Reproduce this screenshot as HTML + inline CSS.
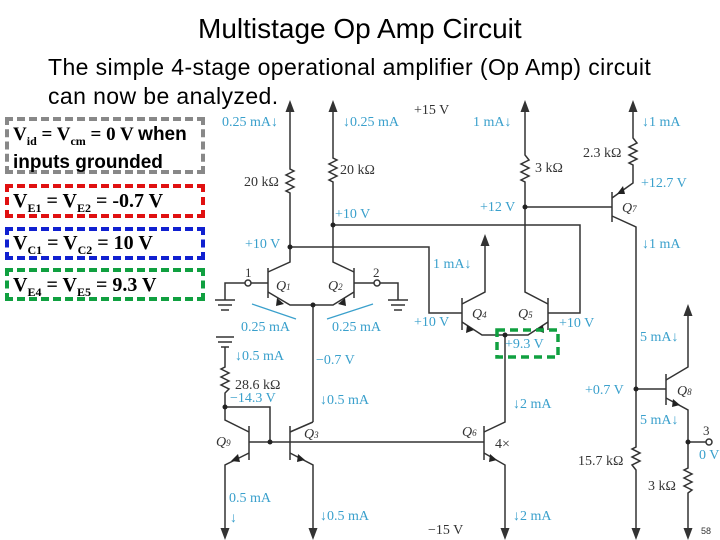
<!DOCTYPE html>
<html><head><meta charset="utf-8"><style>
body{margin:0;width:720px;height:540px;background:#fff;overflow:hidden;position:relative;font-family:"Liberation Sans",sans-serif}
.t{position:absolute;white-space:nowrap}
.box{position:absolute;border:4px dashed;box-sizing:border-box}
.bx{font-family:"Liberation Serif",serif;font-weight:bold;font-size:20px;position:absolute;left:13px;white-space:nowrap}
sub{font-size:12px}
</style></head><body>
<div class="t" style="left:198px;top:13px;font-size:28px">Multistage Op Amp Circuit</div>
<div class="t" style="left:48px;top:53px;font-size:23px;letter-spacing:0.4px;line-height:29px">The simple 4-stage operational amplifier (Op Amp) circuit<br>can now be analyzed.</div>
<div class="box" style="left:5px;top:117px;width:200px;height:57px;border-color:#888"></div>
<div class="bx" style="top:124px;font-size:19px;line-height:21px">V<sub>id</sub> = V<sub>cm</sub> = 0 V <span style="font-family:'Liberation Sans'">when</span><br><span style="font-family:'Liberation Sans'">inputs grounded</span></div>
<div class="box" style="left:5px;top:184px;width:200px;height:34px;border-color:#e01010"></div>
<div class="bx" style="top:190px">V<sub>E1</sub> = V<sub>E2</sub> = -0.7 V</div>
<div class="box" style="left:5px;top:227px;width:200px;height:33px;border-color:#1020d0"></div>
<div class="bx" style="top:232px">V<sub>C1</sub> = V<sub>C2</sub> = 10 V</div>
<div class="box" style="left:5px;top:268px;width:200px;height:33px;border-color:#10a040"></div>
<div class="bx" style="top:274px">V<sub>E4</sub> = V<sub>E5</sub> = 9.3 V</div>
<svg width="720" height="540" style="position:absolute;left:0;top:0" font-family="Liberation Serif,serif">
<defs><marker id="a" markerWidth="8" markerHeight="8" refX="4" refY="4" orient="auto"><path d="M0,1 L8,4 L0,7z" fill="#333"/></marker></defs>
<g stroke="#333" stroke-width="1.5" fill="none">
<polyline points="290,247 290,193 286,191 294,187 286,183 294,179 286,175 294,171 290,169 290,110" />
<line x1="290" y1="110" x2="290" y2="106" marker-end="url(#a)"/>
<polyline points="333,225 333,182 329,180 337,176 329,172 337,168 329,164 337,160 333,158 333,110"/>
<line x1="333" y1="110" x2="333" y2="106" marker-end="url(#a)"/>
<polyline points="290,247 429,247 429,313 462,313"/>
<polyline points="333,225 580,225 580,313 548,313"/>
<polyline points="290,247 290,262 268,272"/>
<line x1="268" y1="268" x2="268" y2="298"/>
<polyline points="268,292 290,305 333,305 354,292"/>
<line x1="354" y1="268" x2="354" y2="298"/>
<polyline points="333,225 333,262 354,272"/>
<polyline points="225,300 225,283 245,283"/><circle cx="248" cy="283" r="3"/><line x1="251" y1="283" x2="268" y2="283"/>
<line x1="215" y1="300" x2="235" y2="300"/><line x1="218" y1="305" x2="232" y2="305"/><line x1="221" y1="310" x2="229" y2="310"/>
<line x1="354" y1="283" x2="374" y2="283"/><circle cx="377" cy="283" r="3"/><polyline points="380,283 398,283 398,300"/>
<line x1="388" y1="300" x2="408" y2="300"/><line x1="391" y1="305" x2="405" y2="305"/><line x1="394" y1="310" x2="402" y2="310"/>
<line x1="313" y1="305" x2="313" y2="422"/>
<line x1="216" y1="337" x2="234" y2="337"/><line x1="218" y1="342" x2="232" y2="342"/><line x1="221" y1="347" x2="229" y2="347"/>
<polyline points="225,347 225,367 221,369 229,373 221,377 229,381 221,385 229,389 225,393 225,407 270,407 270,442"/>
<polyline points="225,407 225,420 249,432"/>
<line x1="249" y1="426" x2="249" y2="460"/>
<polyline points="249,453 225,465 225,532" />
<line x1="225" y1="530" x2="225" y2="534" marker-end="url(#a)"/>
<line x1="249" y1="442" x2="484" y2="442"/>
<line x1="290" y1="426" x2="290" y2="460"/>
<polyline points="290,432 313,422"/>
<polyline points="290,453 313,465 313,532"/>
<line x1="313" y1="530" x2="313" y2="534" marker-end="url(#a)"/>
<line x1="484" y1="426" x2="484" y2="460"/>
<polyline points="484,432 505,422 505,335"/>
<polyline points="484,453 505,465 505,532"/>
<line x1="505" y1="530" x2="505" y2="534" marker-end="url(#a)"/>
<line x1="462" y1="298" x2="462" y2="330"/>
<polyline points="462,304 485,292 485,245"/>
<line x1="485" y1="245" x2="485" y2="240" marker-end="url(#a)"/>
<polyline points="462,322 482,335 528,335 548,322"/>
<line x1="548" y1="298" x2="548" y2="330"/>
<polyline points="548,304 525,292 525,182 521,180 529,176 521,172 529,168 521,164 529,160 525,155 525,110"/>
<line x1="525" y1="110" x2="525" y2="106" marker-end="url(#a)"/>
<line x1="525" y1="207" x2="612" y2="207"/>
<line x1="612" y1="192" x2="612" y2="222"/>
<polyline points="612,198 633,183 633,165 629,163 637,159 629,155 637,151 629,147 637,143 633,138 633,110"/>
<line x1="633" y1="110" x2="633" y2="106" marker-end="url(#a)"/>
<polyline points="612,216 636,227 636,447 632,449 640,453 632,457 640,461 632,465 636,470 636,532"/>
<line x1="636" y1="530" x2="636" y2="534" marker-end="url(#a)"/>
<line x1="636" y1="389" x2="666" y2="389"/>
<line x1="666" y1="374" x2="666" y2="405"/>
<polyline points="666,380 688,367 688,315"/>
<line x1="688" y1="315" x2="688" y2="310" marker-end="url(#a)"/>
<polyline points="666,398 688,410 688,468 684,470 692,474 684,478 692,482 684,486 692,490 688,493 688,532"/>
<line x1="688" y1="530" x2="688" y2="534" marker-end="url(#a)"/>
<line x1="688" y1="442" x2="706" y2="442"/><circle cx="709" cy="442" r="3"/>
</g>
<g fill="#222">
<circle cx="290" cy="247" r="2.5"/><circle cx="333" cy="225" r="2.5"/><circle cx="313" cy="305" r="2.5"/>
<circle cx="225" cy="407" r="2.5"/><circle cx="270" cy="442" r="2.5"/><circle cx="505" cy="335" r="2.5"/>
<circle cx="525" cy="207" r="2.5"/><circle cx="636" cy="389" r="2.5"/><circle cx="688" cy="442" r="2.5"/>
<path d="M277,298 L284,304 L276,306z"/><path d="M345,298 L338,304 L346,306z"/>
<path d="M231,461 L238,454 L240,462z"/><path d="M305,460 L298,454 L297,462z"/>
<path d="M497,460 L490,454 L489,462z"/><path d="M474,330 L467,325 L466,333z"/>
<path d="M536,330 L543,325 L544,333z"/><path d="M617,194 L623,186 L625,194z"/>
<path d="M680,405 L673,399 L672,407z"/>
</g>
<rect x="497" y="330" width="61" height="27" fill="none" stroke="#10a040" stroke-width="3.5" stroke-dasharray="8,5"/>
<g fill="#333" font-size="14">
<text x="414" y="114">+15 V</text>
<text x="244" y="186">20 kΩ</text><text x="340" y="174">20 kΩ</text>
<text x="535" y="172">3 kΩ</text><text x="583" y="157">2.3 kΩ</text>
<text x="245" y="277" font-size="13">1</text><text x="373" y="277" font-size="13">2</text>
<text x="276" y="290" font-style="italic">Q<tspan font-size="9">1</tspan></text>
<text x="328" y="290" font-style="italic">Q<tspan font-size="9">2</tspan></text>
<text x="472" y="318" font-style="italic">Q<tspan font-size="9">4</tspan></text>
<text x="518" y="318" font-style="italic">Q<tspan font-size="9">5</tspan></text>
<text x="622" y="212" font-style="italic">Q<tspan font-size="9">7</tspan></text>
<text x="677" y="395" font-style="italic">Q<tspan font-size="9">8</tspan></text>
<text x="216" y="446" font-style="italic">Q<tspan font-size="9">9</tspan></text>
<text x="304" y="438" font-style="italic">Q<tspan font-size="9">3</tspan></text>
<text x="462" y="436" font-style="italic">Q<tspan font-size="9">6</tspan></text>
<text x="495" y="448">4×</text>
<text x="235" y="389">28.6 kΩ</text>
<text x="578" y="465">15.7 kΩ</text><text x="648" y="490">3 kΩ</text>
<text x="428" y="534">−15 V</text>
<text x="703" y="435" font-size="13">3</text>
<text x="701" y="534" font-size="9" font-family="Liberation Sans">58</text>
</g>
<g fill="#3aa0cc" font-size="14">
<text x="222" y="126">0.25 mA↓</text><text x="343" y="126">↓0.25 mA</text>
<text x="473" y="126">1 mA↓</text><text x="642" y="126">↓1 mA</text>
<text x="335" y="218">+10 V</text><text x="480" y="211">+12 V</text><text x="641" y="187">+12.7 V</text>
<text x="245" y="248">+10 V</text><text x="642" y="248">↓1 mA</text>
<text x="433" y="268">1 mA↓</text>
<text x="414" y="326">+10 V</text><text x="559" y="327">+10 V</text>
<text x="241" y="331">0.25 mA</text><text x="332" y="331">0.25 mA</text>
<text x="505" y="348">+9.3 V</text>
<text x="235" y="360">↓0.5 mA</text><text x="316" y="364">−0.7 V</text>
<text x="230" y="402">−14.3 V</text><text x="320" y="404">↓0.5 mA</text>
<text x="513" y="408">↓2 mA</text>
<text x="640" y="341">5 mA↓</text><text x="585" y="394">+0.7 V</text><text x="640" y="424">5 mA↓</text>
<text x="699" y="459">0 V</text>
<text x="229" y="502">0.5 mA</text><text x="230" y="522">↓</text>
<text x="320" y="520">↓0.5 mA</text><text x="513" y="520">↓2 mA</text>
</g>
<g stroke="#3aa0cc" stroke-width="1.2"><line x1="252" y1="304" x2="296" y2="319"/><line x1="373" y1="304" x2="327" y2="319"/></g>
</svg>
</body></html>
